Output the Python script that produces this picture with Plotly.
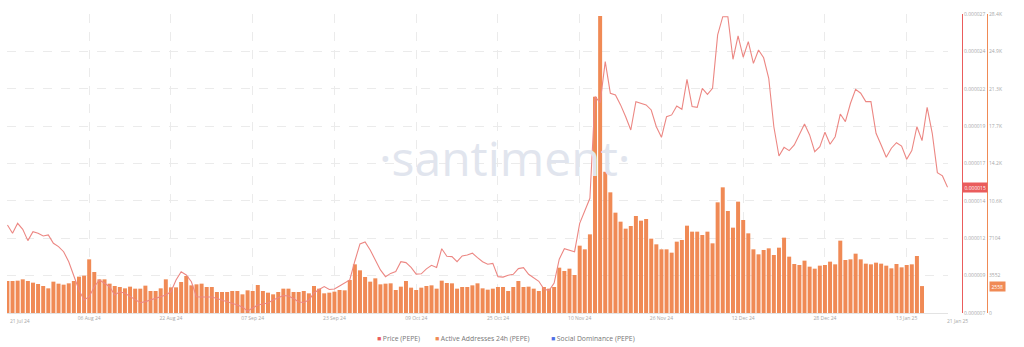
import plotly.graph_objects as go
import pandas as pd

# ---------------- data ----------------
start_date = "2024-07-21"

# Active Addresses 24h (PEPE), daily from 21 Jul 2024
active_addresses = [
    3041, 3041, 3073, 3200, 3041, 2883, 2756, 2566, 2344, 2978, 2788, 2693, 2820, 3041, 3453, 3548,
    5100, 3897, 3200, 3200, 2788, 2566, 2471, 2344, 2503, 2313, 2313, 2598, 2091, 2091, 2344, 3200,
    2439, 2439, 2946, 3516, 2629,
    2724, 2788, 2471, 2471, 1996, 1996, 1996, 2091, 2091, 1774, 2154, 2091, 2661, 2091, 1932, 1774,
    1996, 2313, 2313, 1996, 1996, 2091, 1869, 2566, 2313, 1869, 1932, 2028, 2186, 2154, 3136, 4625,
    4055, 3421, 2978, 3295, 2724,
    2788, 2820, 2186, 2503, 3041, 2408, 2186, 2408, 2566, 2629, 2313, 3073, 2851, 2820, 2313, 2471,
    2471, 2629, 2820, 2344, 2218, 2313, 2471, 2471, 2091, 2471, 3041, 2471, 2503, 2313, 2091, 2471,
    2313, 2471, 4308, 3992, 4213,
    3612, 6399, 6051, 7476, 20560, 28227, 13432, 11468, 9536, 8680, 8015, 8268, 9219, 8775, 8934, 7065,
    6526, 6051, 6051, 5734, 6780, 6938, 8300, 7730, 7730, 7413, 7730, 6621, 10518, 11943, 9694, 8110,
    10581, 8839, 7572, 6051, 5576,
    5988, 6146, 5512, 6209, 7160, 5354, 4657, 4562, 4974, 4404, 4213, 4499, 4562, 4879, 4625, 6875,
    5037, 5100, 5639, 5100, 4689, 4625, 4784, 4689, 4499, 4245, 4657, 4340, 4562, 4625, 5417, 2558,
]

# Price (PEPE) in millionths of a USD, daily from 21 Jul 2024 to 21 Jan 2025
price_micro_usd = [
    12.89, 12.33, 13.00, 12.60, 11.84, 12.44, 12.33, 12.15, 12.22, 11.66, 11.44, 11.10, 10.43, 9.43,
    8.54, 7.87, 8.09, 8.76, 9.21, 8.99, 8.76, 8.20, 8.42, 8.32, 8.09, 7.87, 7.69, 7.76, 7.87, 7.98,
    8.09, 8.20, 8.42, 9.21, 9.76, 9.54, 9.09,
    8.09, 8.07, 8.09, 8.07, 7.97, 7.87, 7.77, 7.67, 7.54, 7.40, 7.13, 7.33, 7.54, 7.60, 7.67, 7.87,
    8.00, 8.17, 8.14, 7.97, 7.74, 7.70, 7.87, 8.34, 8.57, 8.77, 8.57, 8.61, 8.81, 8.99, 9.21, 10.48,
    11.62, 11.75, 11.21, 10.55, 9.88,
    9.43, 9.65, 9.77, 10.43, 10.37, 10.05, 9.60, 9.62, 9.95, 10.19, 10.05, 11.30, 10.80, 10.77, 10.43,
    10.82, 10.88, 11.00, 10.70, 10.43, 10.26, 10.32, 9.43, 9.40, 9.52, 9.59, 9.97, 10.03, 9.59, 9.34,
    9.12, 8.60, 8.50, 9.00, 10.60, 11.30, 11.20,
    11.10, 13.00, 13.78, 14.67, 21.47, 21.07,
    23.81, 21.70, 21.58, 20.92, 20.13, 19.24, 21.14, 21.03, 20.92, 20.58, 19.46, 18.75, 20.13, 20.25,
    20.85, 20.63, 22.63, 20.81, 20.76, 22.03, 21.63, 22.03, 25.60, 26.82, 26.82, 23.97, 25.53, 24.11,
    25.15, 23.70, 24.59,
    24.07, 22.70, 19.46, 17.50, 18.08, 17.86, 18.24, 18.91, 19.64, 18.91, 17.79, 18.13, 19.09, 18.29,
    18.79, 20.31, 19.80, 21.03, 21.96, 21.70, 21.14, 21.14, 19.02, 18.24, 17.42, 18.02, 18.39, 18.17,
    17.28, 17.86, 19.46, 18.53, 20.76, 19.02, 16.39, 16.17, 15.41,
]

x_tick_dates = ["2024-08-06", "2024-08-22", "2024-09-07", "2024-09-23", "2024-10-09", "2024-10-25",
                "2024-11-10", "2024-11-26", "2024-12-12", "2024-12-28", "2025-01-13"]
x_tick_labels = ["06 Aug 24", "22 Aug 24", "07 Sep 24", "23 Sep 24", "09 Oct 24", "25 Oct 24",
                 "10 Nov 24", "26 Nov 24", "12 Dec 24", "28 Dec 24", "13 Jan 25"]
first_date_label = "21 Jul 24"
last_date_label = "21 Jan 25"

price_tick_micro = [7, 9.5, 12, 14.5, 17, 19.5, 22, 24.5, 27]
price_tick_labels = ["0.000007", "0.000009", "0.000012", "0.000014", "0.000017",
                     "0.000019", "0.000022", "0.000024", "0.000027"]
addr_tick_vals = [0, 3552, 7104, 10656, 14208, 17760, 21312, 24864, 28416]
addr_tick_labels = ["0", "3552", "7104", "10.6K", "14.2K", "17.7K", "21.3K", "24.9K", "28.4K"]

last_price_label = "0.000015"
last_addr_label = "2558"

legend_names = ["Price (PEPE)", "Active Addresses 24h (PEPE)", "Social Dominance (PEPE)"]

# ---------------- styling ----------------
PRICE_COLOR = "#ec8783"
PRICE_AXIS_COLOR = "#ea5c5c"
BAR_COLOR = "#f08a55"
SOCIAL_COLOR = "#4f6fe6"
GRID = "#ebebeb"
TICK_COLOR = "#a8a8a8"
FONT = "Open Sans"

W, H = 1024, 347
ML, MR, MT, MB = 7, 10, 14, 34
PW = W - ML - MR
PH = H - MT - MB


def px(x):
    return (x - ML) / PW


def py(y):
    return (H - MB - y) / PH


bar_dates = pd.date_range(start_date, periods=len(active_addresses), freq="D")
price_dates = pd.date_range(start_date, periods=len(price_micro_usd), freq="D")
price = [p * 1e-6 for p in price_micro_usd]
price_ticks = [p * 1e-6 for p in price_tick_micro]

fig = go.Figure()
fig.add_trace(go.Bar(
    x=bar_dates, y=active_addresses, name=legend_names[1],
    marker=dict(color=BAR_COLOR, line=dict(width=0)),
    xaxis="x", yaxis="y",
))
fig.add_trace(go.Scatter(
    x=price_dates, y=price, name=legend_names[0], mode="lines",
    line=dict(color=PRICE_COLOR, width=1.1),
    xaxis="x", yaxis="y2",
))

tickfont = dict(family=FONT, size=5, color=TICK_COLOR)

fig.update_layout(
    width=W, height=H,
    margin=dict(l=ML, r=MR, t=MT, b=MB, pad=0),
    paper_bgcolor="white", plot_bgcolor="white",
    showlegend=False,
    bargap=0.22,
    font=dict(family=FONT),
    xaxis=dict(
        type="date",
        domain=[0, px(948)],
        range=["2024-07-20 22:00", "2025-01-21 02:00"],
        tickvals=x_tick_dates, ticktext=x_tick_labels,
        tickfont=tickfont, ticks="",
        showgrid=True, gridcolor=GRID, griddash="dash", gridwidth=1,
        showline=True, linecolor="#e3e3e3", linewidth=1,
        zeroline=False,
    ),
    yaxis=dict(
        anchor="free", position=px(987), side="right",
        range=[0, 28416],
        tickvals=addr_tick_vals, ticktext=addr_tick_labels,
        tickfont=tickfont, ticks="",
        showgrid=True, gridcolor=GRID, griddash="dash", gridwidth=1,
        showline=True, linecolor=BAR_COLOR, linewidth=1,
        zeroline=False,
    ),
    yaxis2=dict(
        overlaying="y", anchor="free", position=px(962), side="right",
        range=[7e-6, 27e-6],
        tickvals=price_ticks, ticktext=price_tick_labels,
        tickfont=tickfont, ticks="",
        showgrid=False,
        showline=True, linecolor=PRICE_AXIS_COLOR, linewidth=1,
        zeroline=False,
    ),
)

annotations = []
# watermark
annotations.append(dict(
    xref="paper", yref="paper", x=px(504), y=py(157),
    text="·santiment·", showarrow=False,
    font=dict(family=FONT, size=48, color="#e1e5ee"),
    xanchor="center", yanchor="middle",
))
# edge date labels
annotations.append(dict(
    xref="paper", yref="paper", x=px(8), y=py(321), text=first_date_label,
    showarrow=False, xanchor="left", yanchor="middle", font=tickfont,
))
annotations.append(dict(
    xref="paper", yref="paper", x=px(957), y=py(321), text=last_date_label,
    showarrow=False, xanchor="center", yanchor="middle", font=tickfont,
))
# current value tags
annotations.append(dict(
    xref="paper", yref="y2", x=px(974.5), y=price[-1], text=last_price_label,
    showarrow=False, xanchor="center", yanchor="middle",
    font=dict(family=FONT, size=5, color="white"),
    bgcolor=PRICE_AXIS_COLOR, borderpad=1.5,
))
annotations.append(dict(
    xref="paper", yref="y", x=px(997.5), y=active_addresses[-1], text=last_addr_label,
    showarrow=False, xanchor="center", yanchor="middle",
    font=dict(family=FONT, size=5, color="white"),
    bgcolor=BAR_COLOR, borderpad=1.5,
))
# legend
legend_colors = [PRICE_AXIS_COLOR, BAR_COLOR, SOCIAL_COLOR]
legend_x = [375, 433, 549]
for name, col, lx in zip(legend_names, legend_colors, legend_x):
    annotations.append(dict(
        xref="paper", yref="paper", x=px(lx), y=py(338),
        text=f'<span style="color:{col}">■</span> {name}',
        showarrow=False, xanchor="left", yanchor="middle",
        font=dict(family=FONT, size=6.8, color="#777777"),
    ))

fig.update_layout(annotations=annotations)

fig.write_html("out.html")
